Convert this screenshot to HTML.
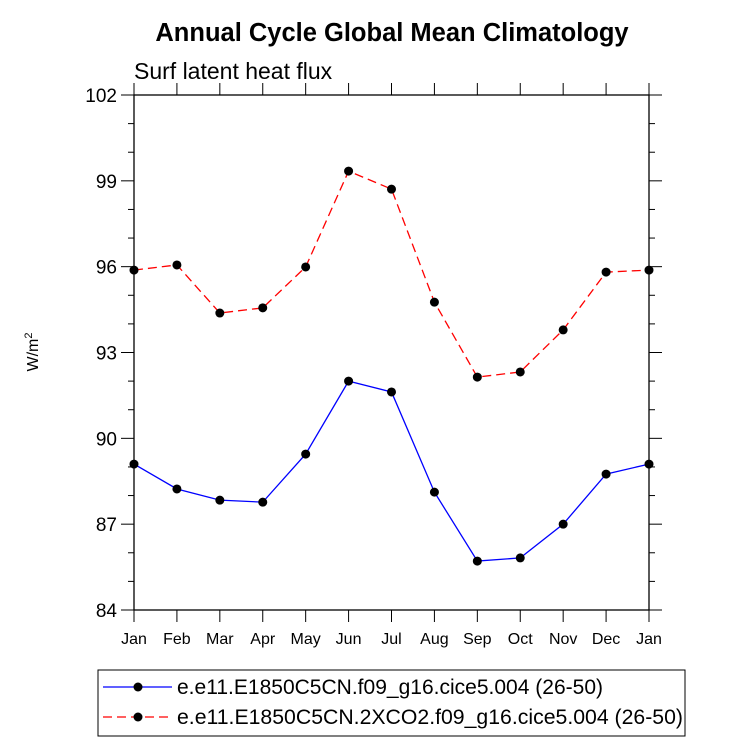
<!DOCTYPE html>
<html><head><meta charset="utf-8"><style>body{margin:0;background:#fff}svg{display:block;font-family:"Liberation Sans",sans-serif}</style></head>
<body>
<svg id="c" width="733" height="744">
<text x="392" y="41" text-anchor="middle" font-size="25.5" font-weight="bold">Annual Cycle Global Mean Climatology</text>
<text x="134" y="79" font-size="23">Surf latent heat flux</text>
<text transform="translate(38,352) rotate(-90)" text-anchor="middle" font-size="16">W/m<tspan dy="-6" font-size="11">2</tspan></text>
<g id="plot"></g>
<rect x="98" y="670" width="587" height="66" fill="none" stroke="#000" stroke-width="1"/>
<g>
<line x1="103" y1="687" x2="172" y2="687" stroke="#0000ff" stroke-width="1.2"/><circle cx="138" cy="687" r="4.5"/>
<text x="177" y="694" font-size="21" textLength="426" lengthAdjust="spacingAndGlyphs">e.e11.E1850C5CN.f09_g16.cice5.004 (26-50)</text></g>
<g>
<line x1="103" y1="717" x2="172" y2="717" stroke="#ff0000" stroke-width="1.2" stroke-dasharray="9,5"/><circle cx="138" cy="717" r="4.5"/>
<text x="177" y="724" font-size="21" textLength="506" lengthAdjust="spacingAndGlyphs">e.e11.E1850C5CN.2XCO2.f09_g16.cice5.004 (26-50)</text></g>
</svg>
<script>
const months=["Jan","Feb","Mar","Apr","May","Jun","Jul","Aug","Sep","Oct","Nov","Dec","Jan"];
const controlValues=[89.10,88.23,87.84,87.77,89.45,92.00,91.62,88.12,85.71,85.82,87.00,88.75,89.10];
const co2Values=[95.88,96.06,94.38,94.56,95.99,99.34,98.71,94.76,92.14,92.32,93.79,95.81,95.88];
const yTicks=[84,87,90,93,96,99,102];
const X0=134,X1=649,Y0=95,Y1=610,ymin=84,ymax=102;
const xs=i=>X0+(X1-X0)*i/(months.length-1);
const ys=v=>Y1-(v-ymin)/(ymax-ymin)*(Y1-Y0);
const NS="http://www.w3.org/2000/svg",g=document.getElementById("plot");
function mk(t,a){const e=document.createElementNS(NS,t);for(const k in a)e.setAttribute(k,a[k]);g.appendChild(e);return e;}
const frame=mk("rect",{x:X0,y:Y0,width:X1-X0,height:Y1-Y0,fill:"none",stroke:"#000","stroke-width":1.3});


for(let v=ymin;v<=ymax;v+=1){const y=ys(v);const maj=yTicks.includes(v);const L=maj?13:6;
mk("line",{x1:X0-L,y1:y,x2:X0,y2:y,stroke:"#000"});mk("line",{x1:X1,y1:y,x2:X1+L,y2:y,stroke:"#000"});
if(maj){const t=mk("text",{x:X0-17,y:y+7,"text-anchor":"end","font-size":19});t.textContent=v;

}}
months.forEach((m,i)=>{const x=xs(i);mk("line",{x1:x,y1:Y1,x2:x,y2:Y1+12,stroke:"#000"});mk("line",{x1:x,y1:Y0-12,x2:x,y2:Y0,stroke:"#000"});
const t=mk("text",{x:x,y:Y1+34,"text-anchor":"middle","font-size":16});t.textContent=m;

});
function series(vals,color,dash,name){const p=mk("polyline",{points:vals.map((v,i)=>xs(i)+","+ys(v)).join(" "),fill:"none",stroke:color,"stroke-width":1.3,"stroke-dasharray":dash});


vals.forEach((v,i)=>{const c=mk("circle",{cx:xs(i),cy:ys(v),r:4.5,fill:"#000"});

});}
series(controlValues,"#0000ff","none","control");
series(co2Values,"#ff0000","9,5","co2");
</script>
</body></html>
